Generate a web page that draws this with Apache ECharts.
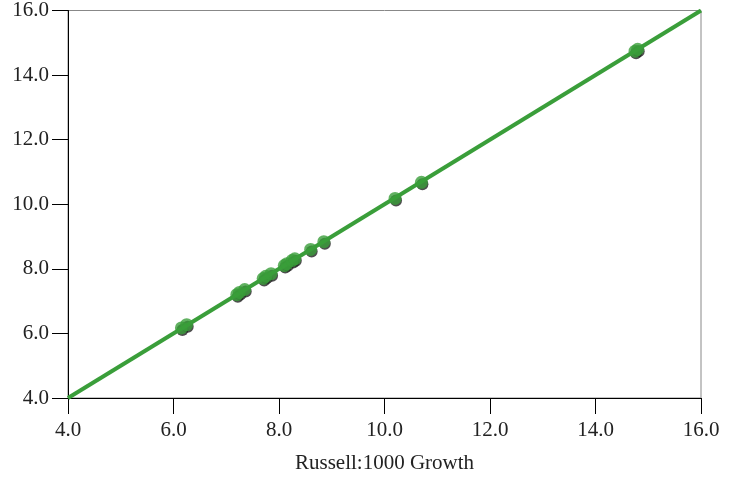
<!DOCTYPE html>
<html>
<head>
<meta charset="utf-8">
<script src="https://cdn.jsdelivr.net/npm/echarts@6/dist/echarts.min.js"></script>
<style>html,body{margin:0;padding:0;background:#fff}#c{width:736px;height:479px}</style>
</head>
<body>
<div id="c"></div>
<script>
var xTitle = "Russell:1000 Growth";
var pointX = [6.15, 6.25, 7.2, 7.25, 7.35, 7.7, 7.75, 7.85, 8.1, 8.15, 8.25, 8.3, 8.6, 8.85, 10.2, 10.7, 14.75, 14.8];
var pointY = [6.17, 6.27, 7.2, 7.27, 7.36, 7.7, 7.77, 7.85, 8.1, 8.16, 8.26, 8.31, 8.6, 8.84, 10.18, 10.68, 14.74, 14.8];
var lineX = [4, 16];
var lineY = [4, 16];

var pts = pointX.map(function(x, i){ return [x, pointY[i]]; });
var ln = lineX.map(function(x, i){ return [x, lineY[i]]; });
var font = "Liberation Serif";
var chart = echarts.init(document.getElementById('c'));
chart.setOption({
  animation: false,
  grid: {left: 68, right: 35, top: 10, bottom: 79, show: true, borderColor: '#888', borderWidth: 1},
  xAxis: {
    type: 'value', min: 4, max: 16, interval: 2,
    name: xTitle, nameLocation: 'middle', nameGap: 55,
    nameTextStyle: {fontFamily: font, fontSize: 21, color: '#222'},
    axisLine: {lineStyle: {color: '#000', width: 1}},
    axisTick: {length: 16, lineStyle: {color: '#000'}},
    axisLabel: {margin: 22, fontFamily: font, fontSize: 21, color: '#222', formatter: function(v){return v.toFixed(1);}},
    splitLine: {show: false}
  },
  yAxis: {
    type: 'value', min: 4, max: 16, interval: 2,
    axisLine: {lineStyle: {color: '#000', width: 1}},
    axisTick: {length: 16, lineStyle: {color: '#000'}},
    axisLabel: {margin: 19, fontFamily: font, fontSize: 21, color: '#222', formatter: function(v){return v.toFixed(1);}},
    splitLine: {show: false}
  },
  series: [
    {type: 'scatter', data: pts, symbol: 'circle', symbolSize: 12, symbolOffset: [1, 2],
     itemStyle: {color: '#222', opacity: 0.8}, z: 2},
    {type: 'line', data: ln, symbol: 'none', lineStyle: {color: '#3a9e3a', width: 4}, z: 3},
    {type: 'scatter', data: pts, symbol: 'circle', symbolSize: 13,
     itemStyle: {color: '#3a9e3a'}, z: 4}
  ]
});
</script>
</body>
</html>
